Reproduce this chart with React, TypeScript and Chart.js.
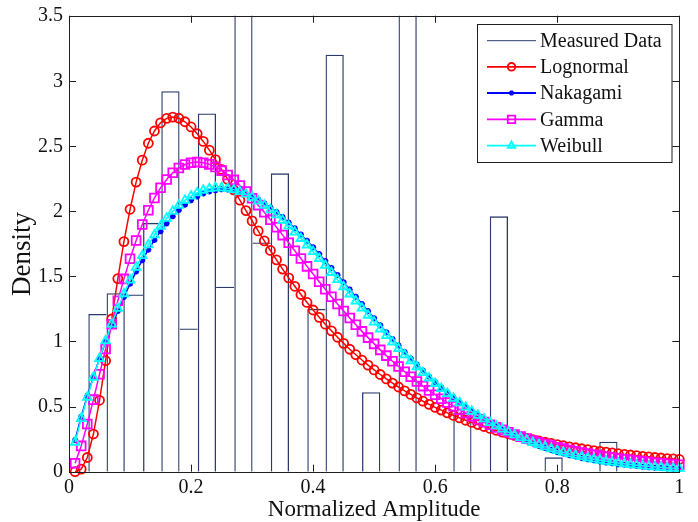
import React, { useEffect, useRef } from "react";
import { Chart, registerables } from "chart.js";

Chart.register(...registerables);

// ---------------- data ----------------
const binCenters = [
  0.0466, 0.0765, 0.1064, 0.1363, 0.1662, 0.1961, 0.226, 0.2559, 0.2858, 0.3157,
  0.3456, 0.3755, 0.4054, 0.4353, 0.4652, 0.4951, 0.525, 0.5549, 0.5848, 0.6147,
  0.6446, 0.6745, 0.7044, 0.7343, 0.7642, 0.7941, 0.824, 0.8539, 0.8838, 0.9137,
];
const binDensity = [
  1.21, 1.37, 1.36, 1.91, 2.92, 1.1, 2.75, 1.42, 3.9, 1.76,
  2.29, 0, 1.25, 3.2, 0, 0.61, 0, 3.8, 0, 0,
  0.45, 0.42, 1.96, 0, 0, 0.11, 0, 0, 0.23, 0,
];

const xGrid = [
  0.01, 0.02, 0.03, 0.04, 0.05, 0.06, 0.07, 0.08, 0.09, 0.1,
  0.11, 0.12, 0.13, 0.14, 0.15, 0.16, 0.17, 0.18, 0.19, 0.2,
  0.21, 0.22, 0.23, 0.24, 0.25, 0.26, 0.27, 0.28, 0.29, 0.3,
  0.31, 0.32, 0.33, 0.34, 0.35, 0.36, 0.37, 0.38, 0.39, 0.4,
  0.41, 0.42, 0.43, 0.44, 0.45, 0.46, 0.47, 0.48, 0.49, 0.5,
  0.51, 0.52, 0.53, 0.54, 0.55, 0.56, 0.57, 0.58, 0.59, 0.6,
  0.61, 0.62, 0.63, 0.64, 0.65, 0.66, 0.67, 0.68, 0.69, 0.7,
  0.71, 0.72, 0.73, 0.74, 0.75, 0.76, 0.77, 0.78, 0.79, 0.8,
  0.81, 0.82, 0.83, 0.84, 0.85, 0.86, 0.87, 0.88, 0.89, 0.9,
  0.91, 0.92, 0.93, 0.94, 0.95, 0.96, 0.97, 0.98, 0.99, 1.0,
];

const lognormal = [
  0.0, 0.02, 0.109, 0.289, 0.548, 0.852, 1.172, 1.482, 1.766, 2.014,
  2.223, 2.391, 2.521, 2.615, 2.678, 2.712, 2.722, 2.713, 2.686, 2.646,
  2.594, 2.535, 2.468, 2.396, 2.32, 2.243, 2.163, 2.084, 2.004, 1.925,
  1.848, 1.772, 1.698, 1.626, 1.555, 1.488, 1.423, 1.36, 1.299, 1.241,
  1.185, 1.132, 1.081, 1.032, 0.985, 0.94, 0.898, 0.857, 0.818, 0.781,
  0.746, 0.712, 0.68, 0.65, 0.62, 0.593, 0.566, 0.541, 0.517, 0.494,
  0.473, 0.452, 0.432, 0.413, 0.395, 0.378, 0.362, 0.347, 0.332, 0.318,
  0.304, 0.291, 0.279, 0.267, 0.256, 0.246, 0.236, 0.226, 0.217, 0.208,
  0.199, 0.191, 0.184, 0.176, 0.169, 0.162, 0.156, 0.15, 0.144, 0.138,
  0.133, 0.128, 0.123, 0.118, 0.114, 0.109, 0.105, 0.101, 0.098, 0.094,
];

const nakagami = [
  0.243, 0.422, 0.582, 0.73, 0.868, 0.997, 1.119, 1.233, 1.341, 1.442,
  1.536, 1.623, 1.704, 1.778, 1.845, 1.906, 1.96, 2.008, 2.049, 2.084,
  2.112, 2.135, 2.151, 2.161, 2.167, 2.166, 2.16, 2.149, 2.133, 2.113,
  2.089, 2.06, 2.028, 1.993, 1.954, 1.912, 1.868, 1.821, 1.773, 1.723,
  1.671, 1.618, 1.564, 1.509, 1.454, 1.398, 1.343, 1.288, 1.233, 1.178,
  1.124, 1.071, 1.019, 0.968, 0.918, 0.869, 0.822, 0.776, 0.731, 0.689,
  0.647, 0.608, 0.569, 0.533, 0.498, 0.465, 0.433, 0.403, 0.375, 0.348,
  0.322, 0.298, 0.275, 0.254, 0.234, 0.216, 0.198, 0.182, 0.167, 0.152,
  0.139, 0.127, 0.116, 0.106, 0.096, 0.087, 0.079, 0.071, 0.065, 0.058,
  0.053, 0.047, 0.043, 0.038, 0.034, 0.031, 0.028, 0.025, 0.022, 0.02,
];

const gamma = [
  0.065, 0.198, 0.366, 0.553, 0.748, 0.942, 1.132, 1.312, 1.48, 1.634,
  1.774, 1.898, 2.007, 2.101, 2.179, 2.243, 2.294, 2.331, 2.358, 2.372,
  2.377, 2.372, 2.359, 2.339, 2.311, 2.278, 2.24, 2.196, 2.15, 2.099,
  2.046, 1.991, 1.934, 1.876, 1.816, 1.757, 1.696, 1.636, 1.576, 1.517,
  1.458, 1.4, 1.343, 1.287, 1.233, 1.18, 1.128, 1.077, 1.029, 0.981,
  0.935, 0.891, 0.848, 0.807, 0.767, 0.729, 0.692, 0.657, 0.624, 0.591,
  0.56, 0.531, 0.503, 0.476, 0.45, 0.426, 0.403, 0.381, 0.36, 0.34,
  0.321, 0.303, 0.285, 0.269, 0.254, 0.239, 0.225, 0.212, 0.2, 0.188,
  0.177, 0.167, 0.157, 0.147, 0.139, 0.13, 0.123, 0.115, 0.108, 0.102,
  0.095, 0.09, 0.084, 0.079, 0.074, 0.069, 0.065, 0.061, 0.057, 0.054,
];

const weibull = [
  0.226, 0.407, 0.571, 0.724, 0.869, 1.005, 1.133, 1.253, 1.366, 1.471,
  1.569, 1.658, 1.741, 1.817, 1.884, 1.945, 1.998, 2.044, 2.083, 2.115,
  2.141, 2.16, 2.172, 2.179, 2.179, 2.174, 2.165, 2.15, 2.13, 2.106,
  2.077, 2.045, 2.01, 1.971, 1.929, 1.885, 1.839, 1.79, 1.74, 1.689,
  1.636, 1.583, 1.529, 1.474, 1.419, 1.364, 1.309, 1.255, 1.201, 1.148,
  1.095, 1.044, 0.994, 0.944, 0.896, 0.85, 0.804, 0.76, 0.718, 0.677,
  0.638, 0.6, 0.563, 0.529, 0.495, 0.463, 0.433, 0.405, 0.377, 0.351,
  0.327, 0.304, 0.282, 0.261, 0.242, 0.224, 0.207, 0.191, 0.176, 0.162,
  0.149, 0.137, 0.125, 0.115, 0.105, 0.096, 0.088, 0.08, 0.073, 0.067,
  0.061, 0.055, 0.05, 0.045, 0.041, 0.037, 0.034, 0.03, 0.027, 0.025,
];

const xTicks = [0, 0.2, 0.4, 0.6, 0.8, 1];
const xTickLabels = ["0", "0.2", "0.4", "0.6", "0.8", "1"];
const yTicks = [0, 0.5, 1, 1.5, 2, 2.5, 3, 3.5];
const yTickLabels = ["0", "0.5", "1", "1.5", "2", "2.5", "3", "3.5"];
const xTitle = "Normalized Amplitude";
const yTitle = "Density";
const seriesNames = ["Measured Data", "Lognormal", "Nakagami", "Gamma", "Weibull"];

// ---------------- styles ----------------
const FONT = '"Liberation Serif", "Times New Roman", serif';
const AXIS = "#1e1e1e";
const TEXT = "#111111";
const BAR_EDGE = "#2b3a6b";
const COLORS = [BAR_EDGE, "#ff0000", "#0000ff", "#ff00ff", "#00ffff"];
const MARKERS = ["none", "circle", "star", "rect", "triangle"];
const MARKER_R = [0, 4.5, 3, 6.2, 5];

function drawMarker(ctx: CanvasRenderingContext2D, style: string, x: number, y: number, r: number) {
  ctx.beginPath();
  if (style === "circle") {
    ctx.arc(x, y, r, 0, Math.PI * 2);
  } else if (style === "rect") {
    const s = r * Math.SQRT1_2;
    ctx.rect(x - s, y - s, 2 * s, 2 * s);
  } else if (style === "triangle") {
    for (let i = 0; i < 3; i++) {
      const a = (i * 2 * Math.PI) / 3;
      const px = x + Math.sin(a) * r;
      const py = y - Math.cos(a) * r;
      if (i === 0) ctx.moveTo(px, py);
      else ctx.lineTo(px, py);
    }
    ctx.closePath();
  } else if (style === "star") {
    ctx.moveTo(x - r, y);
    ctx.lineTo(x + r, y);
    ctx.moveTo(x, y - r);
    ctx.lineTo(x, y + r);
    const d = r * Math.SQRT1_2;
    ctx.moveTo(x - d, y - d);
    ctx.lineTo(x + d, y + d);
    ctx.moveTo(x - d, y + d);
    ctx.lineTo(x + d, y - d);
  }
  ctx.stroke();
}

const frame = {
  id: "matlabFrame",
  afterDraw(chart: any) {
    const ctx: CanvasRenderingContext2D = chart.ctx;
    const { left, right, top, bottom } = chart.chartArea;
    const xs = chart.scales.x;
    const ys = chart.scales.y;
    ctx.save();
    // box
    ctx.strokeStyle = AXIS;
    ctx.lineWidth = 1;
    ctx.strokeRect(Math.round(left) + 0.5, Math.round(top) + 0.5, Math.round(right - left), Math.round(bottom - top));
    // ticks inward
    const tl = 7;
    ctx.beginPath();
    xTicks.forEach((v) => {
      const px = Math.round(xs.getPixelForValue(v)) + 0.5;
      ctx.moveTo(px, bottom);
      ctx.lineTo(px, bottom - tl);
      ctx.moveTo(px, top);
      ctx.lineTo(px, top + tl);
    });
    yTicks.forEach((v) => {
      const py = Math.round(ys.getPixelForValue(v)) + 0.5;
      ctx.moveTo(left, py);
      ctx.lineTo(left + tl, py);
      ctx.moveTo(right, py);
      ctx.lineTo(right - tl, py);
    });
    ctx.stroke();

    // tick labels
    ctx.fillStyle = TEXT;
    ctx.font = `20px ${FONT}`;
    ctx.textBaseline = "middle";
    ctx.textAlign = "center";
    xTicks.forEach((v, i) => {
      ctx.fillText(xTickLabels[i], xs.getPixelForValue(v), 488);
    });
    ctx.textAlign = "right";
    yTicks.forEach((v, i) => {
      ctx.fillText(yTickLabels[i], 63, ys.getPixelForValue(v) + 0.5);
    });

    // axis titles
    ctx.font = `23px ${FONT}`;
    ctx.textAlign = "center";
    ctx.fillText(xTitle, (left + right) / 2, 510);
    ctx.save();
    ctx.translate(23, 254);
    ctx.rotate(-Math.PI / 2);
    ctx.font = `27px ${FONT}`;
    ctx.fillText(yTitle, 0, 0);
    ctx.restore();

    // legend
    const bx = 477.5, by = 24.5, bw = 194.5, bh = 138;
    ctx.fillStyle = "#ffffff";
    ctx.fillRect(bx, by, bw, bh);
    ctx.strokeStyle = AXIS;
    ctx.lineWidth = 1;
    ctx.strokeRect(bx, by, bw, bh);
    const rowY = [40.7, 66.8, 93, 119.3, 145.6];
    ctx.font = `20px ${FONT}`;
    ctx.textAlign = "left";
    ctx.textBaseline = "middle";
    seriesNames.forEach((name, i) => {
      const y = rowY[i];
      ctx.strokeStyle = COLORS[i];
      ctx.lineWidth = i === 0 ? 1 : 1.8;
      ctx.beginPath();
      ctx.moveTo(487, y);
      ctx.lineTo(536, y);
      ctx.stroke();
      if (MARKERS[i] !== "none") {
        ctx.lineWidth = 1.8;
        drawMarker(ctx, MARKERS[i], 511.5, y, MARKER_R[i] * 0.85);
      }
      ctx.fillStyle = TEXT;
      ctx.fillText(name, 540, y + 1);
    });
    ctx.restore();
  },
};

function lineSet(label: string, values: number[], i: number) {
  return {
    type: "line" as const,
    label,
    data: xGrid.map((x, k) => ({ x, y: values[k] })),
    borderColor: COLORS[i],
    borderWidth: 1.5,
    pointStyle: MARKERS[i],
    pointRadius: MARKER_R[i],
    pointBorderWidth: 1.8,
    pointBorderColor: COLORS[i],
    pointBackgroundColor: "rgba(0,0,0,0)",
    tension: 0,
    clip: false as any,
    order: 5 - i,
  };
}

export default function App() {
  const ref = useRef<HTMLCanvasElement | null>(null);
  useEffect(() => {
    if (!ref.current) return;
    const chart = new Chart(ref.current, {
      type: "line",
      data: {
        datasets: [
          {
            type: "bar" as const,
            label: seriesNames[0],
            data: binCenters.map((x, k) => ({ x, y: binDensity[k] })),
            backgroundColor: "rgba(255,255,255,0)",
            borderColor: BAR_EDGE,
            borderWidth: (c: any) => {
              const i = c.dataIndex;
              if (i === undefined) return 1;
              const h = binDensity[i];
              if (!h) return 0;
              const prev = i > 0 ? binDensity[i - 1] : 0;
              const next = i < binDensity.length - 1 ? binDensity[i + 1] : 0;
              const w = 1.3;
              return { top: w, bottom: 0, left: prev >= h ? 0 : w, right: next > h ? 0 : w };
            },
            borderSkipped: "start",
            barPercentage: 1,
            categoryPercentage: 1,
            inflateAmount: 0,
            order: 10,
          } as any,
          lineSet(seriesNames[1], lognormal, 1),
          lineSet(seriesNames[2], nakagami, 2),
          lineSet(seriesNames[3], gamma, 3),
          lineSet(seriesNames[4], weibull, 4),
        ],
      },
      options: {
        responsive: false,
        animation: false,
        devicePixelRatio: 1,
        events: [],
        layout: { padding: { top: 15.7, right: 18.7, left: 0, bottom: 0 } },
        plugins: { legend: { display: false }, tooltip: { enabled: false } },
        scales: {
          x: {
            type: "linear",
            min: 0,
            max: 1,
            offset: false,
            grid: { display: false },
            border: { display: false },
            ticks: { display: false },
            afterFit: (s: any) => {
              s.height = 50.3;
            },
          },
          y: {
            type: "linear",
            min: 0,
            max: 3.5,
            grid: { display: false },
            border: { display: false },
            ticks: { display: false },
            afterFit: (s: any) => {
              s.width = 69;
            },
          },
        },
      } as any,
      plugins: [frame],
    });
    return () => chart.destroy();
  }, []);
  return (
    <div style={{ position: "absolute", left: 0, top: 0, width: 698, height: 522, background: "#fff" }}>
      <canvas ref={ref} width={698} height={522} style={{ display: "block" }} />
    </div>
  );
}
